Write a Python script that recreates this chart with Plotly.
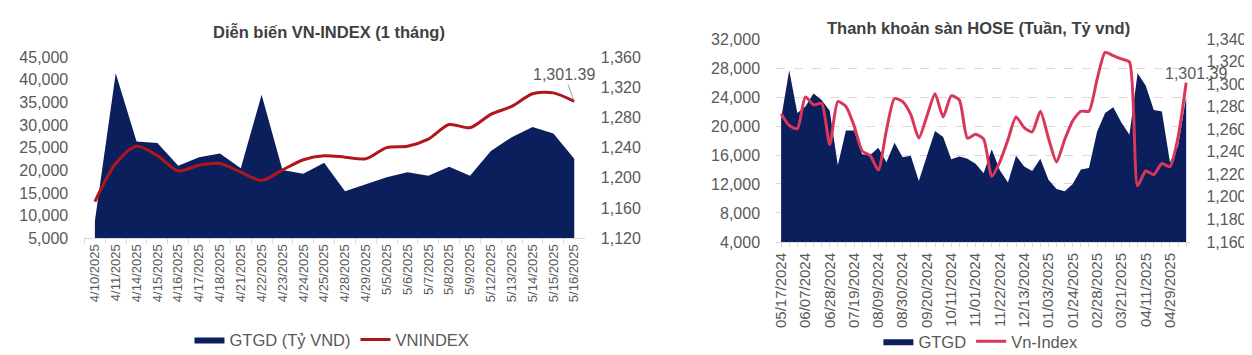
import plotly.graph_objects as go

# ---------------- Left chart: daily ----------------
days = ["4/10/2025", "4/11/2025", "4/14/2025", "4/15/2025", "4/16/2025", "4/17/2025",
        "4/18/2025", "4/21/2025", "4/22/2025", "4/23/2025", "4/24/2025", "4/25/2025",
        "4/28/2025", "4/29/2025", "5/5/2025", "5/6/2025", "5/7/2025", "5/8/2025",
        "5/9/2025", "5/12/2025", "5/13/2025", "5/14/2025", "5/15/2025", "5/16/2025"]
gtgd_day = [8800, 41480, 26390, 26050, 21000, 22890, 23740, 20430, 36710, 20070, 19230, 21690,
            15380, 16920, 18470, 19590, 18810, 20790, 18810, 24280, 27320, 29550, 28160, 22540]
vnindex_day = [1168.4, 1218.9, 1242.0, 1229.4, 1209.2, 1216.8, 1218.9, 1207.5, 1196.5, 1210.4,
               1224.0, 1229.4, 1227.4, 1225.2, 1240.0, 1242.0, 1251.3, 1270.7, 1266.5, 1284.2,
               1294.7, 1311.5, 1312.7, 1301.39]

# ---------------- Right chart: weekly ----------------
weeks = ["05/17/2024", "05/24/2024", "05/31/2024", "06/07/2024", "06/14/2024", "06/21/2024",
         "06/28/2024", "07/05/2024", "07/12/2024", "07/19/2024", "07/26/2024", "08/02/2024",
         "08/09/2024", "08/16/2024", "08/23/2024", "08/30/2024", "09/06/2024", "09/13/2024",
         "09/20/2024", "09/27/2024", "10/04/2024", "10/11/2024", "10/18/2024", "10/25/2024",
         "11/01/2024", "11/08/2024", "11/15/2024", "11/22/2024", "11/29/2024", "12/06/2024",
         "12/13/2024", "12/20/2024", "12/27/2024", "01/03/2025", "01/10/2025", "01/17/2025",
         "01/24/2025", "02/14/2025", "02/21/2025", "02/28/2025", "03/07/2025", "03/14/2025",
         "03/21/2025", "03/28/2025", "04/04/2025", "04/11/2025", "04/18/2025", "04/25/2025",
         "04/29/2025", "05/09/2025", "05/16/2025"]
gtgd_week = [21000, 27700, 21800, 22700, 24500, 23600, 22100, 14600, 19400, 19400, 16100, 16000,
             17000, 15000, 17700, 15700, 15900, 12400, 15900, 19300, 18500, 15400, 15800, 15500,
             14800, 13500, 16800, 13900, 12200, 15900, 14400, 13800, 15500, 12600, 11300, 11000,
             12000, 14000, 14200, 19200, 21800, 22600, 20500, 18800, 27300, 25600, 22200, 22000,
             15000, 17200, 24000]
vnindex_week = [1273.8, 1263.4, 1260.5, 1288.7, 1281.7, 1283.0, 1246.4, 1284.5, 1280.3, 1263.4,
                1240.8, 1236.6, 1223.9, 1259.1, 1287.3, 1284.5, 1273.2, 1252.1, 1271.8, 1291.5,
                1271.0, 1289.6, 1286.0, 1252.1, 1255.5, 1251.3, 1218.3, 1231.0, 1250.7, 1271.0,
                1261.4, 1257.7, 1276.0, 1252.1, 1231.0, 1250.7, 1267.6, 1276.0, 1276.0, 1304.2,
                1328.2, 1325.3, 1322.5, 1319.7, 1209.9, 1223.0, 1219.7, 1229.6, 1226.8, 1253.0,
                1301.39]
week_ticktext = [w if i % 3 == 0 else "" for i, w in enumerate(weeks)]

NAVY = "#0b1f5c"
RED = "#b0161b"
PINK = "#d9365a"
TXT = "#595959"
AXC = "#d9d9d9"
CLEAR = "rgba(0,0,0,0)"
FONT = "Liberation Sans, Arial, sans-serif"
W, H = 1252, 355


def px_x(p):
    return p / W


def px_y(p):
    return 1 - p / H


fig = go.Figure()

fig.add_trace(go.Scatter(x=days, y=gtgd_day, name="GTGD (Tỷ VND)", mode="lines",
                         fill="tozeroy", fillcolor=NAVY, line=dict(width=0, color=NAVY),
                         xaxis="x", yaxis="y", legend="legend"))
fig.add_trace(go.Scatter(x=days, y=vnindex_day, name="VNINDEX", mode="lines",
                         line=dict(color=RED, width=3, shape="spline", smoothing=0.8),
                         xaxis="x", yaxis="y2", legend="legend"))

fig.add_trace(go.Scatter(x=weeks, y=gtgd_week, name="GTGD", mode="lines",
                         fill="tozeroy", fillcolor=NAVY, line=dict(width=0, color=NAVY),
                         xaxis="x2", yaxis="y3", legend="legend2"))
fig.add_trace(go.Scatter(x=weeks, y=vnindex_week, name="Vn-Index", mode="lines",
                         line=dict(color=PINK, width=3, shape="spline", smoothing=0.6),
                         xaxis="x2", yaxis="y4", legend="legend2"))

tickfont_y = dict(size=16, color=TXT, family=FONT)
tickfont_x = dict(size=13, color=TXT, family=FONT)
tickfont_x2 = dict(size=15, color=TXT, family=FONT)

yaxis_common = dict(tickformat=",", showgrid=False, zeroline=False, tickfont=tickfont_y,
                    ticks="outside", ticklen=12, tickcolor=CLEAR, fixedrange=True)

fig.update_layout(
    width=W, height=H,
    margin=dict(l=0, r=0, t=0, b=0),
    paper_bgcolor="white", plot_bgcolor="white",
    font=dict(family=FONT, color=TXT),
    xaxis=dict(domain=[px_x(72.7), px_x(574.5)], type="category", range=[-0.5, 23.5],
               anchor="y", tickangle=-90, ticks="outside", tickson="boundaries", ticklen=5,
               tickcolor=AXC, showline=True, linecolor=AXC, linewidth=1, showgrid=False,
               tickfont=tickfont_x, fixedrange=True),
    yaxis=dict(domain=[px_y(233.3), px_y(43.3)], range=[5000, 45000], dtick=5000,
               anchor="x", **yaxis_common),
    yaxis2=dict(range=[1120, 1360], dtick=40, overlaying="y", side="right", anchor="x",
                **yaxis_common),
    xaxis2=dict(domain=[px_x(766.7), px_x(1182)], type="category", range=[-0.6, 50.5],
                anchor="y3", tickangle=-90, tickmode="array", tickvals=weeks,
                ticktext=week_ticktext, ticks="outside", ticklen=4, tickcolor=AXC,
                showline=True, linecolor=AXC, linewidth=1, showgrid=False,
                tickfont=tickfont_x2, fixedrange=True),
    yaxis3=dict(domain=[px_y(237.3), px_y(24.3)], range=[4000, 32000], dtick=4000,
                anchor="x2", **{**yaxis_common, "showgrid": True},
                gridcolor=AXC, griddash="dash", gridwidth=1),
    yaxis4=dict(range=[1160, 1340], dtick=20, overlaying="y3", side="right", anchor="x2",
                **yaxis_common),
    legend=dict(orientation="h", x=px_x(321), xanchor="center", y=px_y(340), yanchor="middle",
                font=dict(size=16.5, color=TXT, family=FONT), bgcolor=CLEAR,
                itemwidth=30, tracegroupgap=0),
    legend2=dict(orientation="h", x=px_x(972), xanchor="center", y=px_y(342), yanchor="middle",
                 font=dict(size=16.5, color=TXT, family=FONT), bgcolor=CLEAR,
                 itemwidth=30, tracegroupgap=0),
    showlegend=True,
)

fig.add_annotation(text="<b>Diễn biến VN-INDEX (1 tháng)</b>", xref="paper", yref="paper",
                   x=px_x(318), y=px_y(16.7), xanchor="center", yanchor="middle",
                   showarrow=False, font=dict(size=16.5, color="#404040", family=FONT))
fig.add_annotation(text="<b>Thanh khoản sàn HOSE (Tuần, Tỷ vnd)</b>", xref="paper", yref="paper",
                   x=px_x(970), y=px_y(12.5), xanchor="center", yanchor="middle",
                   showarrow=False, font=dict(size=16.5, color="#404040", family=FONT))

fig.add_annotation(text=f"{vnindex_day[-1]:,.2f}", x=days[-1], y=vnindex_day[-1],
                   xref="x", yref="y2", showarrow=True, arrowhead=0, arrowwidth=0.8,
                   arrowcolor="#8c8c8c", ax=-10, ay=-27,
                   font=dict(size=16, color=TXT, family=FONT))
fig.add_annotation(text=f"{vnindex_week[-1]:,.2f}", x=weeks[-1], y=vnindex_week[-1],
                   xref="x2", yref="y4", showarrow=False, xshift=10, yshift=9,
                   font=dict(size=16, color=TXT, family=FONT))

fig.add_shape(type="line", xref="paper", yref="paper", x0=px_x(1248), x1=px_x(1248),
              y0=0, y1=1, line=dict(color=AXC, width=1))

fig.write_html("out.html")
